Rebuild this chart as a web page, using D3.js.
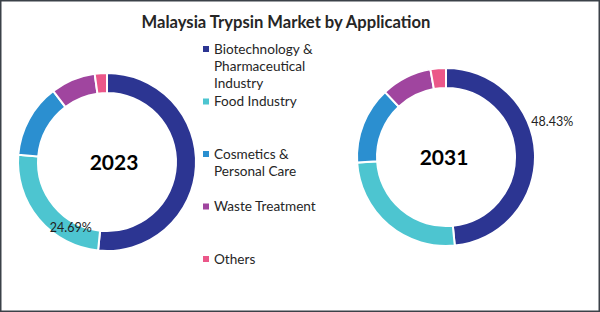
<!DOCTYPE html>
<html>
<head>
<meta charset="utf-8">
<script src="https://cdn.jsdelivr.net/npm/d3@7"></script>
<style>
  body { margin: 0; background: #fff; }
  svg { display: block; font-family: Lato, "Open Sans", sans-serif; }
</style>
</head>
<body>
<div id="chart"></div>
<script>
// data
const categories = ["Biotechnology & Pharmaceutical Industry", "Food Industry", "Cosmetics & Personal Care", "Waste Treatment", "Others"]
const legendLines = [["Biotechnology &", "Pharmaceutical", "Industry"], ["Food Industry"], ["Cosmetics &", "Personal Care"], ["Waste Treatment"], ["Others"]]
const colors = ["#2c3592", "#4dc5d0", "#2b8fd0", "#a0459f", "#eb5789"]
const years = ["2023", "2031"]
const share2023 = [51.6, 24.69, 13.4, 8.1, 2.21]
const share2031 = [48.43, 25.57, 14.0, 9.2, 2.8]
// which slice carries a printed value
const labelled = [{year: "2023", index: 1}, {year: "2031", index: 0}]

const width = 600, height = 312

const svg = d3.select("#chart")
    .append("svg")
    .attr("width", width)
    .attr("height", height)

// frame
svg.append("rect")
    .attr("x", 0.75).attr("y", 0.75)
    .attr("width", width - 1.5).attr("height", height - 1.5)
    .attr("fill", "none")
    .attr("stroke", "#3b4148")
    .attr("stroke-width", 1.5)

svg.append("text")
    .attr("x", 286)
    .attr("y", 28)
    .attr("text-anchor", "middle")
    .style("font-size", "16.6px")
    .style("font-weight", "bold")
    .style("fill", "#262626")
    .text("Malaysia Trypsin Market by Application")

const color = d3.scaleOrdinal().domain(categories).range(colors)

// donut placement
const donutX = d3.scalePoint().domain(years).range([107, 446])
const donutY = {"2023": 162, "2031": 157}
const outerR = 89, innerR = 69

const pie = d3.pie().sort(null).value(d => d.value)
const arc = d3.arc().innerRadius(innerR).outerRadius(outerR)

// where the value labels sit: fraction along the slice and radius
const labelSpot = {"2023": {frac: 0.26, r: 75}, "2031": {frac: 0.41, r: 112}}
const yearText = {"2023": 7, "2031": -2}

const shares = {"2023": share2023, "2031": share2031}

years.forEach(function(year) {
    const rows = categories.map((c, i) => ({key: c, value: shares[year][i]}))
    const arcs = pie(rows)

    const g = svg.append("g")
        .attr("transform", "translate(" + donutX(year) + "," + donutY[year] + ")")

    g.selectAll("path")
        .data(arcs)
        .enter()
        .append("path")
        .attr("d", arc)
        .attr("fill", d => color(d.data.key))
        .attr("stroke", "white")
        .attr("stroke-width", 2)

    g.append("text")
        .attr("x", yearText[year])
        .attr("y", 8)
        .attr("text-anchor", "middle")
        .style("font-size", "21px")
        .style("font-weight", "bold")
        .style("fill", "#000")
        .text(year)

    labelled.filter(l => l.year === year).forEach(function(l) {
        const a = arcs[l.index]
        const spot = labelSpot[year]
        const ang = a.startAngle + spot.frac * (a.endAngle - a.startAngle)
        g.append("text")
            .attr("x", spot.r * Math.sin(ang))
            .attr("y", -spot.r * Math.cos(ang))
            .attr("dy", "0.35em")
            .attr("text-anchor", "middle")
            .style("font-size", "12.5px")
            .style("fill", "#222")
            .text(a.data.value.toFixed(2) + "%")
    })
})

// legend
const legendY = d3.scalePoint().domain(categories).range([49, 259])
const legend = svg.append("g")

const item = legend.selectAll("g")
    .data(categories)
    .enter()
    .append("g")
    .attr("transform", d => "translate(206," + legendY(d) + ")")

item.append("rect")
    .attr("x", -3).attr("y", -3)
    .attr("width", 6).attr("height", 6)
    .attr("fill", d => color(d))

item.append("text")
    .attr("x", 8)
    .attr("y", 0)
    .style("font-size", "13.6px")
    .style("fill", "#262626")
    .selectAll("tspan")
    .data((d, i) => legendLines[i])
    .enter()
    .append("tspan")
    .attr("x", 8)
    .attr("dy", (d, i) => i === 0 ? "0.35em" : "17.3")
    .text(d => d)
</script>
</body>
</html>
